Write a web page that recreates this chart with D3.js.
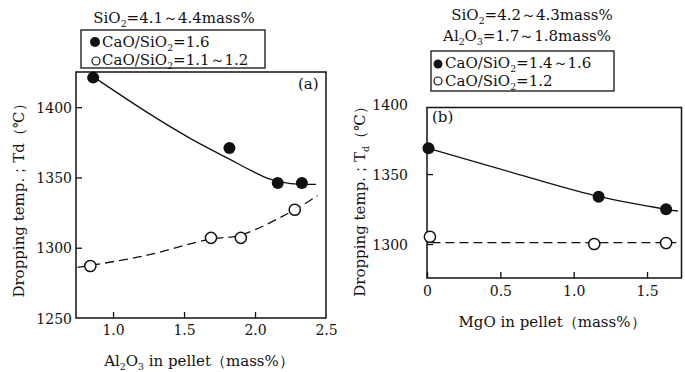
<!DOCTYPE html>
<html>
<head>
<meta charset="utf-8">
<script src="https://cdn.jsdelivr.net/npm/d3@7"></script>
<style>
  body { margin: 0; background: #fff; }
  svg { font-family: "DejaVu Serif", "Liberation Serif", serif; }
  .tick text { font-size: 14px; font-family: "DejaVu Serif", serif; fill: #111; }
  .tick line { stroke: #111; stroke-width: 1.3; }
  .lbl { font-size: 15px; fill: #111; }
</style>
</head>
<body>
<div class="content"></div>
<script>
// ---- panel (a): Al2O3 ----
const aFilledX = [0.86, 1.82, 2.16, 2.33];
const aFilledY = [1421, 1371, 1346, 1346];
const aOpenX = [0.84, 1.69, 1.9, 2.28];
const aOpenY = [1287, 1307, 1307, 1327];
const aSolidX = [0.87, 1.26, 1.54, 1.82, 1.97, 2.1, 2.25, 2.43];
const aSolidY = [1421, 1395, 1378, 1363, 1355, 1349, 1345.6, 1345];
const aDashX = [0.75, 1.21, 1.68, 1.9, 2.28, 2.44];
const aDashY = [1286, 1294, 1306, 1309, 1327, 1337];
const aXTicks = [1.0, 1.5, 2.0, 2.5];
const aYTicks = [1250, 1300, 1350, 1400];

// ---- panel (b): MgO ----
const bFilledX = [0.01, 1.17, 1.63];
const bFilledY = [1368.4, 1333.8, 1324.8];
const bOpenX = [0.02, 1.14, 1.63];
const bOpenY = [1305.2, 1300, 1300.7];
const bSolidX = [0.01, 0.64, 1.18, 1.63, 1.71];
const bSolidY = [1368.4, 1349.3, 1333.8, 1324.8, 1323.6];
const bDashX = [0.03, 1.7];
const bDashY = [1301, 1301];
const bXTicks = [0, 0.5, 1.0, 1.5];
const bYTicks = [1300, 1350, 1400];

const svg = d3
  .select(".content")
  .append("svg")
  .attr("width", 685)
  .attr("height", 372);

const zip = (xs, ys) => xs.map((x, i) => [x, ys[i]]);

// text with subscripts: parts = [[text, sub?], ...]
const richText = (g, x, y, parts, size, anchor) => {
  const t = g
    .append("text")
    .attr("x", x)
    .attr("y", y)
    .attr("font-size", size)
    .attr("text-anchor", anchor || "start")
    .attr("fill", "#111");
  parts.forEach(([s, sub], i) => {
    const prev = i > 0 ? parts[i - 1][1] : false;
    const ts = t.append("tspan").text(s);
    if (sub) ts.attr("font-size", size * 0.62);
    ts.attr("dy", sub && !prev ? 4 : !sub && prev ? -4 : 0);
  });
  return t;
};

const drawPanel = (cfg) => {
  const g = svg.append("g");
  const x = cfg.x, y = cfg.y;

  //--> axes
  g.append("g")
    .attr("class", "axis")
    .attr("transform", `translate(0, ${cfg.bottom})`)
    .call(d3.axisBottom(x).tickValues(cfg.xTicks).tickSize(-6).tickPadding(cfg.xPad).tickFormat(cfg.xFmt))
    .call(a => a.select(".domain").remove())
    .call(a => a.selectAll(".tick line").filter(d => x(d) > cfg.right - 1).remove());

  g.append("g")
    .attr("class", "axis")
    .attr("transform", `translate(${cfg.left}, 0)`)
    .call(d3.axisLeft(y).tickValues(cfg.yTicks).tickSize(-6).tickPadding(cfg.yPad).tickFormat(d3.format("d")))
    .call(a => a.select(".domain").remove())
    .call(a => a.selectAll(".tick line").filter(d => y(d) > cfg.bottom - 1 || y(d) < cfg.top + 1).remove())
    .call(a => a.selectAll(".tick text").attr("dy", "0.36em"));

  //--> frame
  g.append("rect")
    .attr("x", cfg.left)
    .attr("y", cfg.top)
    .attr("width", cfg.right - cfg.left)
    .attr("height", cfg.bottom - cfg.top)
    .attr("fill", "none")
    .attr("stroke", "#111")
    .attr("stroke-width", 1.5);

  //--> fitted curves
  const line = d3.line().x(d => x(d[0])).y(d => y(d[1])).curve(d3.curveCatmullRom.alpha(0.5));
  g.append("path")
    .attr("d", line(cfg.solid))
    .attr("fill", "none")
    .attr("stroke", "#111")
    .attr("stroke-width", 1.3);
  g.append("path")
    .attr("d", line(cfg.dash))
    .attr("fill", "none")
    .attr("stroke", "#111")
    .attr("stroke-width", 1.3)
    .attr("stroke-dasharray", "9,5");

  //--> points
  g.selectAll(null)
    .data(cfg.filled)
    .enter()
    .append("circle")
    .attr("cx", d => x(d[0]))
    .attr("cy", d => y(d[1]))
    .attr("r", 6)
    .attr("fill", "#111");
  g.selectAll(null)
    .data(cfg.open)
    .enter()
    .append("circle")
    .attr("cx", d => x(d[0]))
    .attr("cy", d => y(d[1]))
    .attr("r", 5.6)
    .attr("fill", "#fff")
    .attr("stroke", "#111")
    .attr("stroke-width", 1.5);

  return g;
};

//--> panel (a)
const xA = d3.scaleLinear().domain([0.739, 2.5]).range([76, 326]);
const yA = d3.scaleLinear().domain([1250, 1425]).range([318, 72]);
drawPanel({
  x: xA, y: yA, left: 76, right: 326, top: 72, bottom: 318,
  xTicks: aXTicks, yTicks: aYTicks, xPad: 7, yPad: 4,
  xFmt: d3.format(".1f"),
  solid: zip(aSolidX, aSolidY), dash: zip(aDashX, aDashY),
  filled: zip(aFilledX, aFilledY), open: zip(aOpenX, aOpenY),
});

//--> panel (b)
const xB = d3.scaleLinear().domain([0, 1.735]).range([427, 681.5]);
const yB = d3.scaleLinear().domain([1275.7, 1397.6]).range([278, 107.5]);
drawPanel({
  x: xB, y: yB, left: 427, right: 681.5, top: 107.5, bottom: 278,
  xTicks: bXTicks, yTicks: bYTicks, xPad: 8, yPad: 19,
  xFmt: d => (d === 0 ? "0" : d3.format(".1f")(d)),
  solid: zip(bSolidX, bSolidY), dash: zip(bDashX, bDashY),
  filled: zip(bFilledX, bFilledY), open: zip(bOpenX, bOpenY),
});

//--> panel tags
svg.append("text").attr("class", "lbl").attr("x", 298).attr("y", 89).text("(a)");
svg.append("text").attr("class", "lbl").attr("x", 432).attr("y", 122).text("(b)");

//--> axis titles
richText(svg, 199, 366, [["Al"], ["2", true], ["O"], ["3", true], [" in pellet（mass%）"]], 15, "middle");
richText(svg, 552, 327, [["MgO in pellet（mass%）"]], 15, "middle");

const yTitleA = svg.append("g").attr("transform", "translate(24, 197) rotate(-90)");
richText(yTitleA, 0, 0, [["Dropping temp.；Td（℃）"]], 15, "middle");
const yTitleB = svg.append("g").attr("transform", "translate(365, 198) rotate(-90)");
richText(yTitleB, 0, 0, [["Dropping temp.；T"], ["d", true], ["（℃）"]], 15, "middle");

//--> header (a)
richText(svg, 174, 23, [["SiO"], ["2", true], ["=4.1～4.4mass%"]], 15, "middle");
svg.append("rect")
  .attr("x", 81).attr("y", 30).attr("width", 184).attr("height", 38)
  .attr("fill", "none").attr("stroke", "#111").attr("stroke-width", 1.3);
svg.append("circle").attr("cx", 95).attr("cy", 42).attr("r", 5).attr("fill", "#111");
svg.append("circle").attr("cx", 96).attr("cy", 61).attr("r", 4).attr("fill", "#fff")
  .attr("stroke", "#111").attr("stroke-width", 1.2);
richText(svg, 102, 47, [["CaO/SiO"], ["2", true], ["=1.6"]], 15);
richText(svg, 102, 65, [["CaO/SiO"], ["2", true], ["=1.1～1.2"]], 15);

//--> header (b)
richText(svg, 532, 20, [["SiO"], ["2", true], ["=4.2～4.3mass%"]], 15, "middle");
richText(svg, 527, 41, [["Al"], ["2", true], ["O"], ["3", true], ["=1.7～1.8mass%"]], 15, "middle");
svg.append("rect")
  .attr("x", 431).attr("y", 51).attr("width", 183).attr("height", 40)
  .attr("fill", "none").attr("stroke", "#111").attr("stroke-width", 1.3);
svg.append("circle").attr("cx", 438).attr("cy", 64).attr("r", 4.5).attr("fill", "#111");
svg.append("circle").attr("cx", 438).attr("cy", 81).attr("r", 4).attr("fill", "#fff")
  .attr("stroke", "#111").attr("stroke-width", 1.2);
richText(svg, 445, 68, [["CaO/SiO"], ["2", true], ["=1.4～1.6"]], 15);
richText(svg, 445, 86, [["CaO/SiO"], ["2", true], ["=1.2"]], 15);
</script>
</body>
</html>
